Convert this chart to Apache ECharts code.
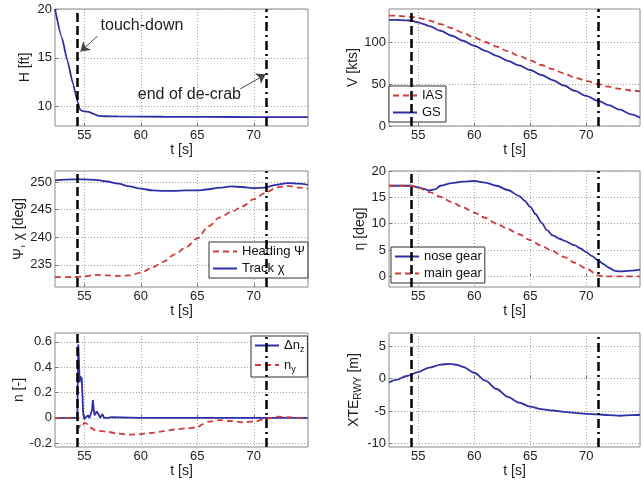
<!DOCTYPE html>
<html>
<head>
<meta charset="utf-8">
<script src="https://cdn.jsdelivr.net/npm/echarts@6/dist/echarts.min.js"></script>
<style>
  html, body { margin: 0; padding: 0; background: #fff; }
  #chart { width: 643px; height: 481px; }
</style>
</head>
<body>
<div id="chart"></div>
<script>
const FONT = '"Liberation Sans", Arial, sans-serif';
const BLUE = '#2f2fa6';
const RED = '#d03a3a';

// time axis shared by all six panels
const T_MIN = 52.4;
const T_MAX = 74.8;
const tTicks = [55, 60, 65, 70];
const TOUCH_DOWN = 54.4;
const DECRAB_END = 71.1;

// H [ft]
const hT = [52.4, 53.0, 53.5, 54.0, 54.4, 54.6, 54.8, 55.0, 55.4, 55.7, 56.0, 56.3, 56.8, 58, 62, 66, 70, 74.8];
const hVal = [20.0, 17.1, 14.7, 12.3, 10.5, 9.7, 9.55, 9.5, 9.45, 9.3, 9.15, 9.03, 9.0, 8.98, 8.95, 8.93, 8.92, 8.9];

// V [kts]
const vT = [52.4, 53, 54, 54.4, 55, 55.5, 56, 57, 58, 59, 60, 61, 62, 63, 64, 65, 66, 67, 68, 69, 70, 71.1, 72, 73, 74, 74.8];
const ias = [132, 132, 131, 130.5, 129.5, 128, 126, 122, 117, 111.5, 106, 100.5, 95, 89.5, 84, 78.5, 73, 68, 63, 58, 54, 50, 47, 44.5, 42.5, 41.5];
const gs = [127, 127, 126.5, 126, 124, 122, 119.5, 114, 108, 102, 96, 90, 84, 78, 72.5, 67, 61, 55, 48.5, 42, 36, 30, 25, 19.5, 14, 10];

// heading / track [deg]
const psiT = [52.4, 54, 55, 56, 57, 58, 59, 60, 61, 62, 63, 64, 65, 66, 67, 68, 69, 70, 71, 72, 73, 74, 74.8];
const heading = [232.8, 232.8, 232.9, 233.2, 233.1, 233.0, 233.1, 233.6, 234.5, 235.6, 236.9, 238.2, 239.8, 242.0, 243.6, 244.6, 245.6, 246.9, 248.0, 249.0, 249.3, 249.0, 248.8];
const track = [250.3, 250.5, 250.5, 250.4, 250.1, 249.7, 249.2, 248.8, 248.5, 248.4, 248.4, 248.5, 248.5, 248.7, 249.0, 249.2, 249.1, 248.9, 249.0, 249.5, 249.8, 249.7, 249.5];

// steering angle [deg]
const noseT = [52.4, 54.4, 55, 55.5, 56, 56.5, 57, 58, 59, 60, 61, 62, 63, 64, 64.5, 65, 65.5, 66, 66.5, 67, 67.7, 68, 69, 69.5, 70, 70.5, 71.1, 71.5, 72, 72.5, 73, 74, 74.8];
const noseGear = [17.2, 17.2, 16.9, 16.6, 16.3, 16.5, 17.2, 17.7, 18.0, 18.1, 17.8, 17.2, 16.4, 15.3, 14.4, 13.2, 11.8, 10.2, 8.8, 7.8, 7.1, 6.8, 5.9, 5.3, 4.6, 3.9, 3.0, 2.4, 1.7, 1.1, 0.95, 1.1, 1.3];
const mainT = [52.4, 54.4, 55, 56, 57, 58, 59, 60, 61, 62, 63, 64, 65, 66, 67, 68, 69, 70, 71.1, 71.5, 74.8];
const mainGear = [17.2, 17.2, 16.9, 16.0, 15.1, 14.1, 13.1, 12.1, 11.1, 10.0, 9.0, 8.0, 6.9, 5.8, 4.8, 3.7, 2.6, 1.5, 0.2, 0, 0];

// load factors [-]
const nzT = [52.4, 54.38, 54.42, 54.46, 54.52, 54.58, 54.64, 54.70, 54.76, 54.82, 54.90, 55.0, 55.15, 55.3, 55.45, 55.6, 55.68, 55.75, 55.82, 55.9, 56.0, 56.1, 56.2, 56.3, 56.4, 56.5, 56.6, 56.75, 56.9, 57.1, 57.4, 60, 65, 70, 74.8];
const dnz = [0, 0, 0.35, 0.58, 0.45, 0.28, 0.33, 0.30, 0.32, 0.2, 0.03, -0.01, 0.0, 0.02, 0.0, 0.0, 0.06, 0.14, 0.08, 0.02, 0.03, 0.05, 0.04, 0.02, 0.0, 0.01, 0.03, 0.0, 0.015, 0.0, 0.005, 0, 0, 0, 0];
const nyT = [52.4, 54.4, 54.5, 54.65, 54.8, 55.0, 55.3, 55.6, 56.0, 56.5, 57, 58, 59, 60, 61, 62, 63, 64, 65, 65.5, 66, 67, 68, 69, 70, 71, 71.5, 72, 73, 74, 74.8];
const ny = [0, 0, -0.08, -0.06, -0.07, -0.04, -0.05, -0.08, -0.1, -0.105, -0.11, -0.125, -0.132, -0.128, -0.118, -0.105, -0.092, -0.083, -0.075, -0.05, -0.03, -0.018, -0.025, -0.035, -0.028, -0.01, 0.0, 0.01, 0.005, 0.0, 0.0];

// cross track error [m]
const xteT = [52.4, 53, 54, 55, 56, 57, 57.8, 58.5, 59, 60, 61, 62, 63, 64, 65, 66, 67, 68, 69, 70, 71, 72, 73, 74, 74.8];
const xte = [-0.6, -0.2, 0.4, 1.0, 1.7, 2.15, 2.25, 2.1, 1.8, 0.9, -0.3, -1.6, -2.8, -3.7, -4.3, -4.7, -4.9, -5.1, -5.25, -5.4, -5.5, -5.6, -5.7, -5.6, -5.55];

const pairs = (ts, vs) => ts.map((t, i) => [t, vs[i]]);

const grids = [
  { left: 55, top: 9, width: 253, height: 117 },
  { left: 389, top: 9, width: 251, height: 117 },
  { left: 55, top: 171, width: 253, height: 116 },
  { left: 389, top: 171, width: 251, height: 116 },
  { left: 55, top: 333, width: 253, height: 114 },
  { left: 389, top: 333, width: 251, height: 114 },
].map((g) => ({ ...g, show: true, borderColor: '#8a8a8a', borderWidth: 1, backgroundColor: '#fff' }));

const gridLine = { show: true, lineStyle: { type: [1, 2], color: '#a0a0a0', width: 1 } };

const xAxisFor = (gridIndex) => ({
  type: 'value',
  gridIndex,
  min: T_MIN,
  max: T_MAX,
  name: 't [s]',
  nameLocation: 'middle',
  nameGap: 17,
  nameTextStyle: { fontFamily: FONT, fontSize: 14, color: '#222' },
  axisLine: { show: false },
  axisTick: { show: true, inside: true, length: 3, customValues: tTicks, lineStyle: { color: '#777' } },
  axisLabel: { customValues: tTicks, margin: 3, fontFamily: FONT, fontSize: 13, color: '#222' },
  splitLine: gridLine,
});

const yAxisFor = (gridIndex, name, min, max, ticks, nameGap, rich) => ({
  type: 'value',
  gridIndex,
  min,
  max,
  name,
  nameLocation: 'middle',
  nameGap,
  nameTextStyle: { fontFamily: FONT, fontSize: 14, color: '#222', rich },
  axisLine: { show: false },
  axisTick: { show: true, inside: true, length: 3, customValues: ticks, lineStyle: { color: '#777' } },
  axisLabel: { customValues: ticks, margin: 3, fontFamily: FONT, fontSize: 13, color: '#222' },
  splitLine: gridLine,
});

const eventLines = (extra = []) => ({
  silent: true,
  symbol: 'none',
  animation: false,
  label: { show: false },
  emphasis: { disabled: true },
  data: [
    { xAxis: TOUCH_DOWN, lineStyle: { type: [9, 4], color: '#000', width: 2.5 } },
    { xAxis: DECRAB_END, lineStyle: { type: [9, 4, 2, 4], color: '#000', width: 2.5 } },
    ...extra,
  ],
});

const arrow = (from, to) => [
  { coord: from, symbol: 'none', lineStyle: { type: 'solid', color: '#444', width: 1 } },
  { coord: to, symbol: 'arrow', symbolSize: 9, lineStyle: { type: 'solid', color: '#444', width: 1 } },
];

const line = (name, gridIndex, data, color, dashed, extra = {}) => ({
  name,
  type: 'line',
  xAxisIndex: gridIndex,
  yAxisIndex: gridIndex,
  data,
  showSymbol: false,
  symbol: 'none',
  smooth: 0.3,
  smoothMonotone: 'x',
  animation: false,
  silent: true,
  lineStyle: { color, width: 1.8, type: dashed ? [6, 4] : 'solid' },
  itemStyle: { color },
  ...extra,
});

const legendFor = (names, left, top, formatter) => ({
  data: names,
  left,
  top,
  orient: 'vertical',
  itemWidth: 24,
  itemHeight: 10,
  itemGap: 4,
  padding: [3, 3, 3, 3],
  borderColor: '#333',
  borderWidth: 1,
  backgroundColor: '#fff',
  selectedMode: false,
  itemStyle: { opacity: 0 },
  formatter,
  textStyle: {
    fontFamily: FONT,
    fontSize: 13,
    color: '#111',
    rich: {
      a: { fontFamily: FONT, fontSize: 13, color: '#111' },
      s: { fontFamily: FONT, fontSize: 9, color: '#111', padding: [9, 0, 0, 0] },
    },
  },
});

const subRich = {
  a: { fontFamily: FONT, fontSize: 14, color: '#222' },
  s: { fontFamily: FONT, fontSize: 10, color: '#222', padding: [9, 0, 0, 0] },
};

const option = {
  backgroundColor: '#fff',
  grid: grids,
  xAxis: [0, 1, 2, 3, 4, 5].map(xAxisFor),
  yAxis: [
    yAxisFor(0, 'H [ft]', 8, 20, [10, 15, 20], 23),
    yAxisFor(1, 'V [kts]', 0, 140, [0, 50, 100], 26),
    yAxisFor(2, 'Ψ, χ [deg]', 231, 252, [235, 240, 245, 250], 23),
    yAxisFor(3, 'η [deg]', -2, 20, [0, 5, 10, 15, 20], 18),
    yAxisFor(4, 'n [-]', -0.23, 0.67, [-0.2, 0, 0.2, 0.4, 0.6], 27),
    yAxisFor(5, '{a|XTE}{s|RWY}{a| [m]}', -10.5, 7, [-10, -5, 0, 5], 25, subRich),
  ],
  legend: [
    legendFor(['IAS', 'GS'], 389, 86),
    legendFor(['Heading Ψ', 'Track χ'], 209, 242),
    legendFor(['nose gear', 'main gear'], 391, 247),
    legendFor(['dnz', 'ny'], 251, 336, (name) => (name === 'dnz' ? '{a|Δn}{s|z}' : '{a|n}{s|y}')),
  ],
  series: [
    line('H', 0, pairs(hT, hVal), BLUE, false, {
      smooth: 0.15,
      markLine: eventLines([arrow([56.15, 17.2], [54.65, 15.65]), arrow([68.8, 11.8], [71.05, 13.3])]),
      markPoint: {
        symbol: 'circle',
        symbolSize: 1,
        silent: true,
        animation: false,
        itemStyle: { color: 'rgba(0,0,0,0)' },
        label: { show: true, position: 'inside', fontFamily: FONT, fontSize: 16, color: '#222' },
        data: [
          { coord: [60.1, 18.25], label: { formatter: 'touch-down' } },
          { coord: [64.3, 11.2], label: { formatter: 'end of de-crab' } },
        ],
      },
    }),
    line('IAS', 1, pairs(vT, ias), RED, true),
    line('GS', 1, pairs(vT, gs), BLUE, false, { markLine: eventLines() }),
    line('Heading Ψ', 2, pairs(psiT, heading), RED, true),
    line('Track χ', 2, pairs(psiT, track), BLUE, false, { markLine: eventLines() }),
    line('nose gear', 3, pairs(noseT, noseGear), BLUE, false),
    line('main gear', 3, pairs(mainT, mainGear), RED, true, { markLine: eventLines() }),
    line('dnz', 4, pairs(nzT, dnz), BLUE, false, { smooth: false }),
    line('ny', 4, pairs(nyT, ny), RED, true, { markLine: eventLines() }),
    line('XTE', 5, pairs(xteT, xte), BLUE, false, { markLine: eventLines() }),
  ],
};

const chart = echarts.init(document.getElementById('chart'), null, { renderer: 'canvas' });
chart.setOption(option);
</script>
</body>
</html>
